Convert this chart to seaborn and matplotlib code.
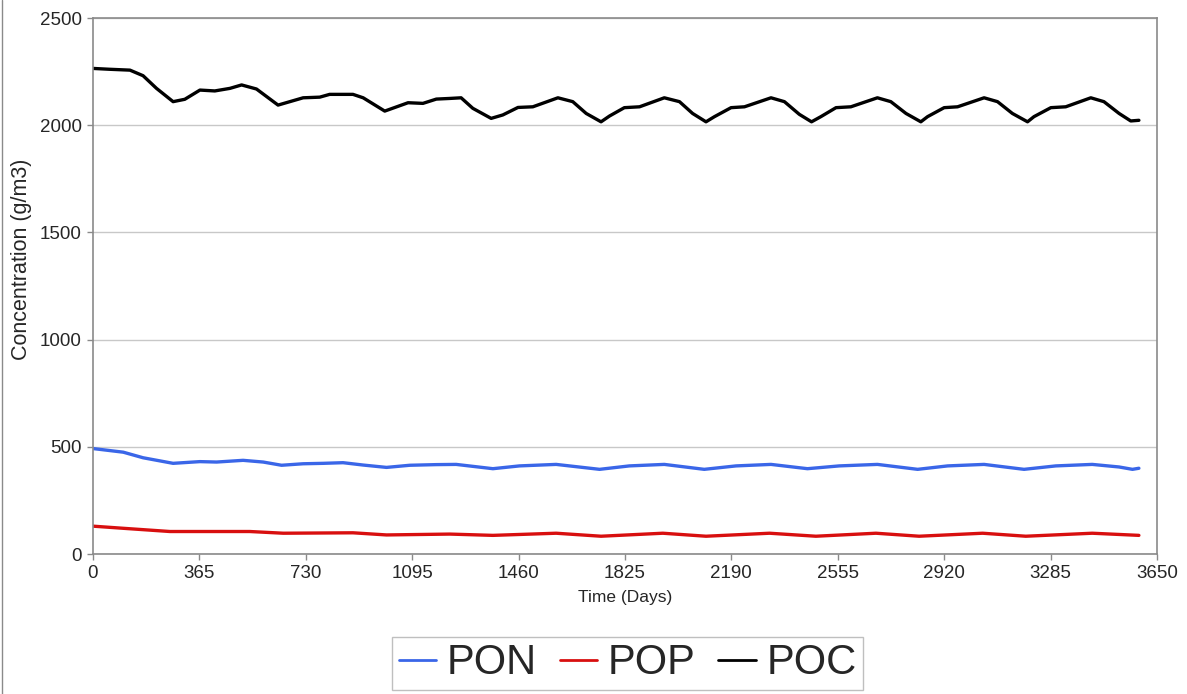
import matplotlib
matplotlib.use("Agg")
import matplotlib.pyplot as plt
import numpy as np
import pandas as pd
import seaborn as sns
from matplotlib.lines import Line2D

# values
poc_days = [0, 58, 127, 172, 218, 275, 315, 367, 418, 470, 510, 561, 635, 721, 778, 812,
            892, 927, 1001, 1081, 1132, 1178, 1224, 1263, 1303, 1366, 1406, 1458, 1509,
            1595, 1646, 1692, 1743, 1772, 1823, 1875, 1960, 2012, 2057, 2103, 2132, 2189,
            2235, 2326, 2372, 2423, 2465, 2497, 2549, 2600, 2691, 2737, 2789, 2840, 2863,
            2920, 2966, 3057, 3103, 3154, 3206, 3228, 3286, 3337, 3423, 3468, 3520, 3560,
            3588]
poc_vals = [2265, 2261, 2257, 2231, 2172, 2110, 2121, 2164, 2160, 2172, 2188, 2169, 2094,
            2128, 2131, 2144, 2144, 2128, 2066, 2105, 2102, 2122, 2125, 2128, 2079, 2032,
            2048, 2083, 2086, 2128, 2110, 2055, 2016, 2043, 2082, 2086, 2128, 2110, 2055,
            2016, 2040, 2082, 2086, 2128, 2110, 2051, 2016, 2040, 2082, 2086, 2128, 2110,
            2055, 2016, 2040, 2082, 2086, 2128, 2110, 2055, 2016, 2040, 2082, 2086, 2128,
            2110, 2055, 2020, 2023]

pon_days = [0, 104, 172, 275, 367, 424, 515, 584, 647, 721, 790, 858, 927, 1007, 1087,
            1178, 1246, 1372, 1463, 1589, 1738, 1840, 1960, 2097, 2206, 2326, 2451, 2560,
            2691, 2829, 2932, 3057, 3194, 3303, 3428, 3520, 3566, 3588]
pon_vals = [492, 475, 449, 423, 431, 429, 437, 429, 414, 421, 423, 426, 415, 404, 414,
            417, 418, 398, 411, 418, 395, 411, 418, 395, 411, 418, 398, 411, 418, 395,
            411, 418, 395, 411, 418, 406, 395, 400]

pop_days = [0, 104, 264, 538, 653, 892, 1007, 1224, 1372, 1589, 1743, 1955, 2103, 2321,
            2480, 2686, 2834, 3052, 3200, 3428, 3588]
pop_vals = [130, 120, 105, 105, 97, 99, 89, 93, 87, 97, 83, 97, 83, 97, 83, 97, 83, 97,
            83, 97, 87]

series_names = ["PON", "POP", "POC"]
series_colors = {"PON": "#3a66e8", "POP": "#d80f0f", "POC": "#000000"}
x_ticks = [0, 365, 730, 1095, 1460, 1825, 2190, 2555, 2920, 3285, 3650]
y_ticks = [0, 500, 1000, 1500, 2000, 2500]

df = pd.concat([
    pd.DataFrame({"day": pon_days, "value": pon_vals, "series": "PON"}),
    pd.DataFrame({"day": pop_days, "value": pop_vals, "series": "POP"}),
    pd.DataFrame({"day": poc_days, "value": poc_vals, "series": "POC"}),
], ignore_index=True)

sns.set_style("white")
plt.rcParams["font.family"] = ["Liberation Sans", "DejaVu Sans"]

fig = plt.figure(figsize=(11.87, 6.94), dpi=100)
ax = fig.add_axes([0.0783, 0.2017, 0.8964, 0.7723])

sns.lineplot(data=df, x="day", y="value", hue="series", hue_order=series_names,
             palette=series_colors, estimator=None, sort=True, linewidth=2.4,
             legend=False, ax=ax)

ax.set_xlim(0, 3650)
ax.set_ylim(0, 2500)
ax.set_xticks(x_ticks)
ax.set_yticks(y_ticks)
ax.yaxis.grid(True, color="#c8c8c8", linewidth=1)
ax.xaxis.grid(False)
for s in ax.spines.values():
    s.set_color("#8a8a8a")
    s.set_linewidth(1.2)
ax.tick_params(axis="both", which="major", length=4, width=1, color="#8a8a8a",
               labelsize=13.5, direction="out", bottom=True, left=True, pad=4)
ax.set_xlabel("Time (Days)", fontsize=12.5, labelpad=6)
ax.set_ylabel("Concentration (g/m3)", fontsize=15.5)
ax.yaxis.set_label_coords(-0.057, 0.55)

handles = [Line2D([], [], color=series_colors[n], linewidth=2) for n in series_names]
leg = fig.legend(handles, series_names, loc="center", bbox_to_anchor=(0.5287, 0.044),
                 ncol=3, fontsize=30, frameon=True, fancybox=False, handlelength=0.9,
                 handletextpad=0.25, columnspacing=0.55, borderpad=0.15,
                 borderaxespad=0)
leg.get_frame().set_edgecolor("#b0b0b0")
leg.get_frame().set_linewidth(1)

fig.add_artist(Line2D([0.002, 0.002], [0, 1], transform=fig.transFigure,
                      color="#8a8a8a", linewidth=1))

fig.savefig("out.png", dpi=100, facecolor="white")
